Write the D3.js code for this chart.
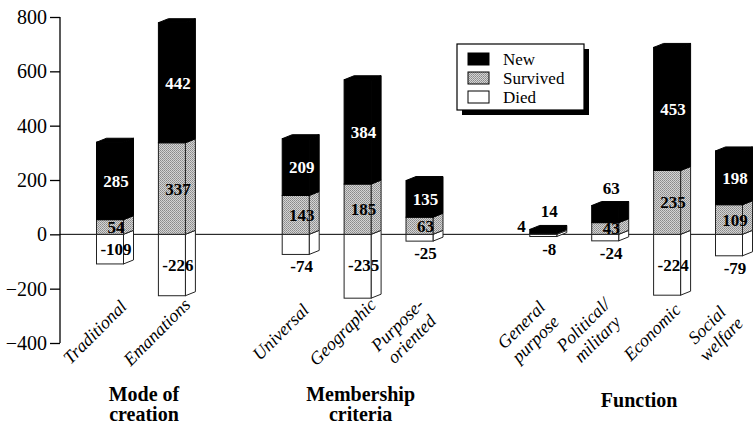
<!DOCTYPE html>
<html>
<head>
<meta charset="utf-8">
<script src="https://cdn.jsdelivr.net/npm/d3@7"></script>
<style>
  body { margin: 0; background: #fff; }
  text { font-family: "Liberation Serif", "Times New Roman", serif; }
</style>
</head>
<body>
<script>
const width = 753;
const height = 425;

// categories and their groups
const categories = ["Traditional", "Emanations", "Universal", "Geographic", "Purpose-oriented",
  "General purpose", "Political/military", "Economic", "Social welfare"];
const categoryLines = [["Traditional"], ["Emanations"], ["Universal"], ["Geographic"], ["Purpose-", "oriented"],
  ["General", "purpose"], ["Political/", "military"], ["Economic"], ["Social", "welfare"]];
const groupOf = [0, 0, 1, 1, 1, 2, 2, 2, 2];
const groupLines = [["Mode of", "creation"], ["Membership", "criteria"], ["Function"]];

// series
const newVals = [285, 442, 209, 384, 135, 14, 63, 453, 198];
const survivedVals = [54, 337, 143, 185, 63, 4, 43, 235, 109];
const diedVals = [-109, -226, -74, -235, -25, -8, -24, -224, -79];

const yTicks = [-400, -200, 0, 200, 400, 600, 800];
const legendItems = ["New", "Survived", "Died"];

const svg = d3.select("body").append("svg")
  .attr("width", width)
  .attr("height", height);

// halftone-ish grey for "Survived"
const defs = svg.append("defs");
const pat = defs.append("pattern")
  .attr("id", "halftone")
  .attr("width", 2).attr("height", 2)
  .attr("patternUnits", "userSpaceOnUse");
pat.append("rect").attr("width", 2).attr("height", 2).attr("fill", "#d4d4d4");
pat.append("rect").attr("width", 1).attr("height", 1).attr("fill", "#8a8a8a");
pat.append("rect").attr("x", 1).attr("y", 1).attr("width", 1).attr("height", 1).attr("fill", "#9a9a9a");
const grey = "url(#halftone)";

const y = d3.scaleLinear().domain([-400, 800]).range([343, 17]);

// slot position: one slot per bar, one extra slot between groups
const slot = categories.map((c, i) => i + groupOf[i]);
const x = d3.scaleLinear().domain([0, 10]).range([115, 734]);

const w = 27;   // front face width
const dx = 10;  // depth offset
const dy = 4;

// zero line
svg.append("line")
  .attr("x1", 60).attr("x2", width)
  .attr("y1", y(0)).attr("y2", y(0))
  .attr("stroke", "#000").attr("stroke-width", 1);

// y axis
const yAxis = svg.append("g")
  .attr("transform", "translate(60,0)")
  .call(d3.axisLeft(y).tickValues(yTicks).tickSize(10).tickPadding(3).tickFormat(d3.format("d")));
yAxis.select(".domain").attr("stroke", "#000").attr("stroke-width", 1.3)
  .attr("d", `M0,${y(800)}V${y(-400)}`);
yAxis.selectAll(".tick line").attr("stroke", "#000").attr("stroke-width", 1.3);
yAxis.selectAll(".tick text")
  .attr("fill", "#000")
  .style("font-family", '"Liberation Serif", serif')
  .style("font-size", "20px");

function box(g, x0, yTop, yBot, fill, top) {
  const stroke = fill === "#000" ? "#000" : "#222";
  g.append("polygon")
    .attr("points", [[x0 + w, yTop], [x0 + w + dx, yTop - dy], [x0 + w + dx, yBot - dy], [x0 + w, yBot]].join(" "))
    .attr("fill", fill).attr("stroke", stroke).attr("stroke-width", 1);
  g.append("rect")
    .attr("x", x0).attr("y", yTop)
    .attr("width", w).attr("height", Math.max(0, yBot - yTop))
    .attr("fill", fill).attr("stroke", stroke).attr("stroke-width", 1);
  if (top) {
    g.append("polygon")
      .attr("points", [[x0, yTop], [x0 + dx, yTop - dy], [x0 + w + dx, yTop - dy], [x0 + w, yTop]].join(" "))
      .attr("fill", fill).attr("stroke", stroke).attr("stroke-width", 1);
  }
}

const bars = svg.append("g");
categories.forEach((c, i) => {
  const cx = x(slot[i]);
  const x0 = cx - (w + dx) / 2;
  const g = bars.append("g");
  const y0 = y(0);
  const yS = y(survivedVals[i]);
  const yN = y(survivedVals[i] + newVals[i]);
  const yD = y(diedVals[i]);
  box(g, x0, y0, yD, "#fff", false);
  box(g, x0, yS, y0, grey, false);
  box(g, x0, yN, yS, "#000", true);

  const lx = cx + 1;
  // new label
  const hN = yS - yN;
  g.append("text")
    .attr("x", lx)
    .attr("y", hN < 22 ? yN - dy - 8 : (yN + yS) / 2 + 6)
    .attr("text-anchor", "middle")
    .attr("fill", hN < 22 ? "#000" : "#fff")
    .style("font-size", "17px").style("font-weight", "bold")
    .text(newVals[i]);
  // survived label
  const hS = y0 - yS;
  g.append("text")
    .attr("x", hS < 8 ? x0 - 4 : lx)
    .attr("y", hS < 8 ? y0 - 2 : (yS + y0) / 2 + 6)
    .attr("text-anchor", hS < 8 ? "end" : "middle")
    .attr("fill", "#000")
    .style("font-size", "17px").style("font-weight", "bold")
    .text(survivedVals[i]);
  // died label
  const hD = yD - y0;
  g.append("text")
    .attr("x", lx)
    .attr("y", hD > 28 ? y0 + Math.min(hD / 2, 31) + 6 : yD + 18)
    .attr("text-anchor", "middle")
    .attr("fill", "#000")
    .style("font-size", "17px").style("font-weight", "bold")
    .text(diedVals[i]);
});

// category labels
categories.forEach((c, i) => {
  const lines = categoryLines[i];
  const px = x(slot[i]) - 20;
  const py = 332;
  const t = svg.append("text")
    .attr("transform", `translate(${px},${py}) rotate(-45)`)
    .attr("text-anchor", "middle")
    .style("font-size", "18px").style("font-style", "italic");
  lines.forEach((l, k) => {
    t.append("tspan")
      .attr("x", 0)
      .attr("y", (k - (lines.length - 1) / 2) * 20 + 6)
      .text(l);
  });
});

// group labels
groupLines.forEach((lines, gi) => {
  const members = slot.filter((s, i) => groupOf[i] === gi).map(s => x(s));
  const gx = d3.mean(members) - 2;
  const t = svg.append("text")
    .attr("text-anchor", "middle")
    .style("font-size", "20px").style("font-weight", "bold");
  lines.forEach((l, k) => {
    t.append("tspan")
      .attr("x", gx)
      .attr("y", lines.length === 1 ? 407 : 401 + k * 20)
      .text(l);
  });
});

// legend
const legend = svg.append("g").attr("transform", "translate(457,44)");
legend.append("rect").attr("x", 5).attr("y", 5).attr("width", 127).attr("height", 66).attr("fill", "#000");
legend.append("rect").attr("x", 0).attr("y", 0).attr("width", 127).attr("height", 66)
  .attr("fill", "#fff").attr("stroke", "#000").attr("stroke-width", 1.2);
const legendFill = ["#000", grey, "#fff"];
legendItems.forEach((name, k) => {
  legend.append("rect")
    .attr("x", 11).attr("y", 9 + k * 19)
    .attr("width", 21).attr("height", 12)
    .attr("fill", legendFill[k]).attr("stroke", "#000").attr("stroke-width", 1);
  legend.append("text")
    .attr("x", 46).attr("y", 21 + k * 19)
    .style("font-size", "17px")
    .text(name);
});
</script>
</body>
</html>
